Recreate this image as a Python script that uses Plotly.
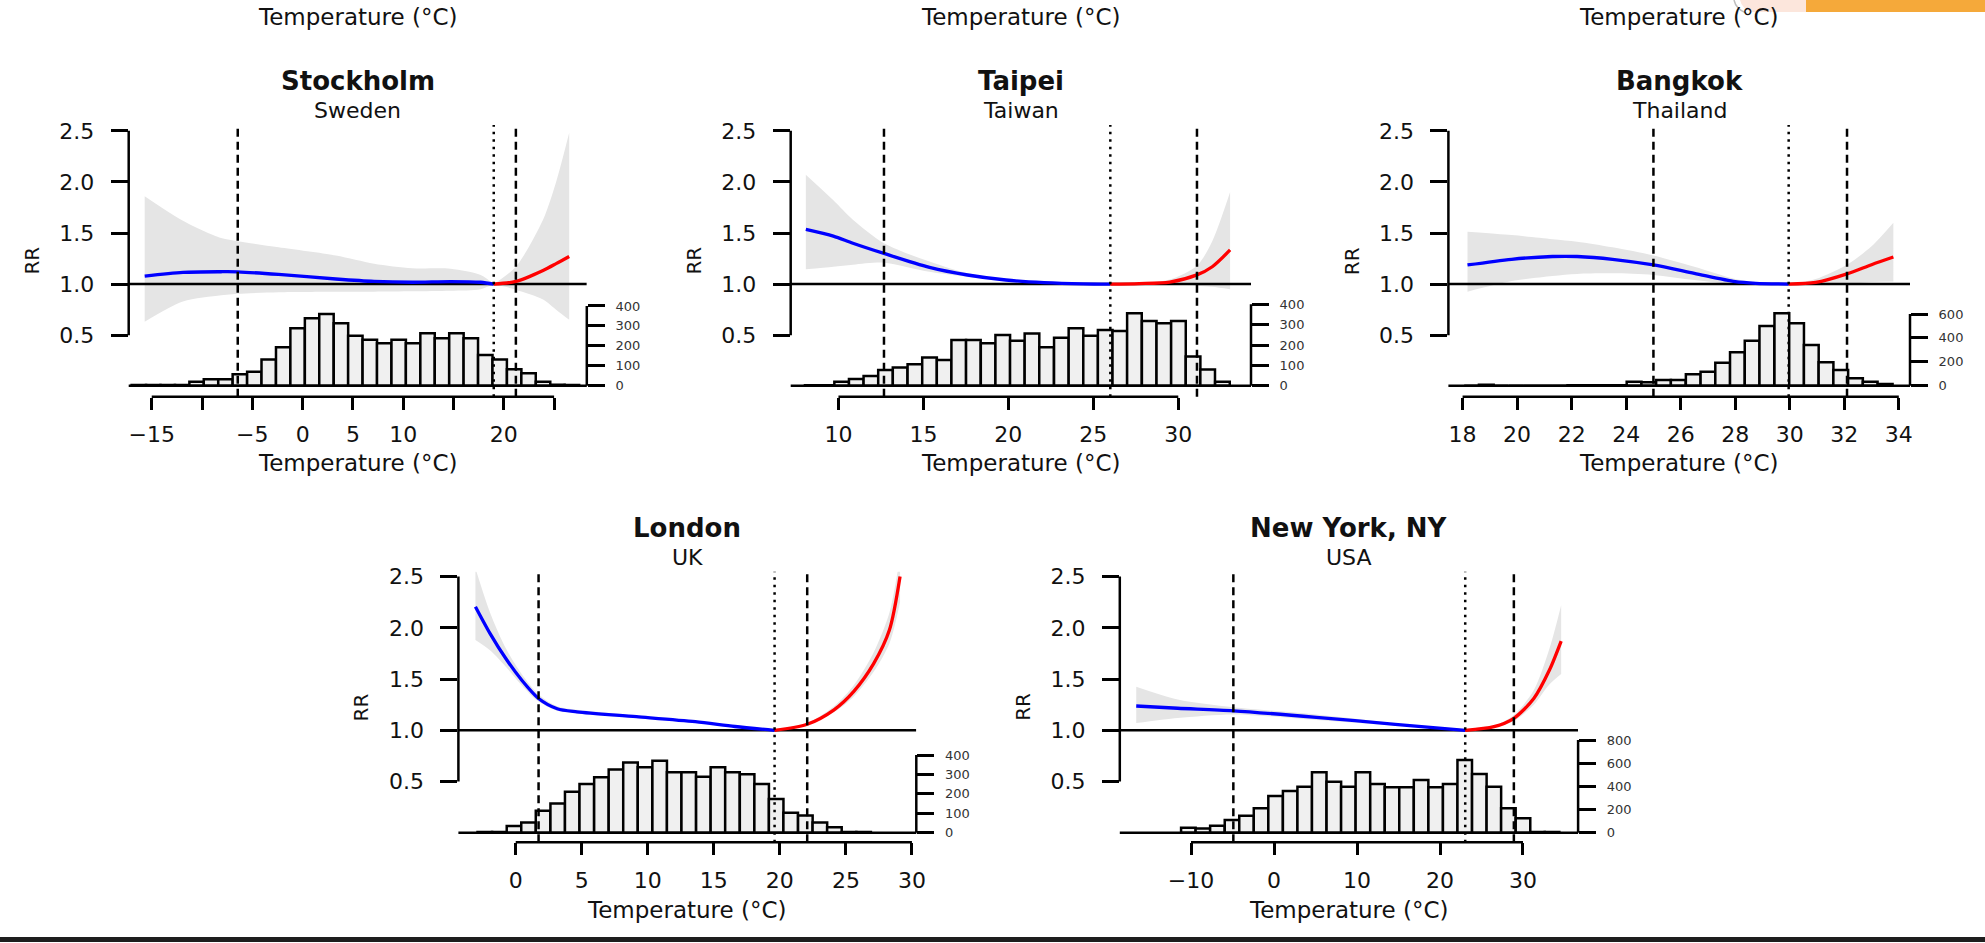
import plotly.graph_objects as go

W, H = 1985, 943

# ---------------- data ----------------
RR_TICKS = [0.5, 1.0, 1.5, 2.0, 2.5]

# Stockholm, Sweden
sto_cold_t = [-15.7, -11.9, -8.1, -6.45, -2.4, 3.3, 7.1, 10.9, 14.7, 17.7, 19.0]
sto_cold_rr = [1.079, 1.115, 1.121, 1.12, 1.095, 1.05, 1.026, 1.018, 1.025, 1.018, 1.0]
sto_cold_lo = [0.632, 0.83, 0.89, 0.905, 0.92, 0.925, 0.926, 0.93, 0.935, 0.95, 1.0]
sto_cold_hi = [1.86, 1.62, 1.45, 1.42, 1.36, 1.28, 1.20, 1.155, 1.15, 1.09, 1.0]
sto_heat_t = [19.0, 21.2, 23.9, 25.2, 26.5]
sto_heat_rr = [1.0, 1.026, 1.134, 1.2, 1.27]
sto_heat_lo = [1.0, 0.945, 0.85, 0.75, 0.65]
sto_heat_hi = [1.0, 1.17, 1.63, 2.0, 2.48]
sto_bins = [-16.28, -14.85, -13.41, -11.98, -10.54, -9.11, -7.67, -6.24, -4.80, -3.37,
            -1.93, -0.50, 0.94, 2.37, 3.81, 5.24, 6.68, 8.11, 9.55, 10.98, 12.42,
            13.85, 15.29, 16.72, 18.16, 19.59, 21.03, 22.46, 23.90, 25.33, 26.77]
sto_bin_width = 1.435
sto_counts = [4, 4, 4, 4, 20, 32, 32, 57, 70, 132, 193, 288, 338, 360, 313, 251, 231, 213,
              231, 213, 263, 238, 263, 238, 154, 132, 82, 62, 20, 5, 3]
sto_mmt = 19.0
sto_cuts = [-6.45, 21.2]
sto_xticks = [-15, -10, -5, 0, 5, 10, 15, 20, 25]
sto_xlabels = ["\u221215", "", "\u22125", "0", "5", "10", "", "20", ""]
sto_hticks = [0, 100, 200, 300, 400]

# Taipei, Taiwan
tpe_cold_t = [8.08, 9.7, 10.85, 12.68, 15.36, 17.6, 19.86, 22.1, 24.4, 26.0]
tpe_cold_rr = [1.536, 1.47, 1.40, 1.30, 1.164, 1.089, 1.040, 1.014, 1.002, 1.0]
tpe_cold_lo = [1.145, 1.17, 1.19, 1.21, 1.12, 1.07, 1.032, 1.011, 1.001, 1.0]
tpe_cold_hi = [2.07, 1.82, 1.63, 1.40, 1.22, 1.105, 1.047, 1.016, 1.003, 1.0]
tpe_heat_t = [26.0, 27.7, 29.5, 31.1, 32.0, 33.05]
tpe_heat_rr = [1.0, 1.005, 1.02, 1.09, 1.17, 1.334]
tpe_heat_lo = [1.0, 0.995, 0.99, 0.985, 0.975, 0.95]
tpe_heat_hi = [1.0, 1.01, 1.045, 1.18, 1.42, 1.9]
tpe_bins = [8.46, 9.32, 10.19, 11.05, 11.91, 12.77, 13.63, 14.50, 15.36, 16.22, 17.08,
            17.94, 18.81, 19.67, 20.53, 21.39, 22.25, 23.12, 23.98, 24.84, 25.70,
            26.56, 27.42, 28.29, 29.15, 30.01, 30.87, 31.73, 32.60]
tpe_bin_width = 0.862
tpe_counts = [2, 2, 20, 33, 48, 77, 90, 105, 139, 126, 225, 225, 208, 249, 221, 257, 189,
              236, 282, 246, 274, 269, 356, 318, 307, 318, 143, 80, 20]
tpe_mmt = 26.0
tpe_cuts = [12.68, 31.1]
tpe_xticks = [10, 15, 20, 25, 30]
tpe_xlabels = ["10", "15", "20", "25", "30"]
tpe_hticks = [0, 100, 200, 300, 400]

# Bangkok, Thailand
bkk_cold_t = [18.18, 19.8, 21.3, 22.2, 23.5, 25.0, 26.5, 28.0, 28.75, 29.96]
bkk_cold_rr = [1.187, 1.243, 1.27, 1.27, 1.243, 1.187, 1.105, 1.024, 1.008, 1.0]
bkk_cold_lo = [0.926, 1.03, 1.08, 1.10, 1.105, 1.09, 1.04, 1.0, 0.998, 1.0]
bkk_cold_hi = [1.513, 1.48, 1.44, 1.415, 1.36, 1.28, 1.17, 1.05, 1.02, 1.0]
bkk_heat_t = [29.96, 30.95, 32.1, 33.0, 33.8]
bkk_heat_rr = [1.0, 1.016, 1.10, 1.19, 1.265]
bkk_heat_lo = [1.0, 0.995, 1.0, 1.02, 1.025]
bkk_heat_hi = [1.0, 1.05, 1.19, 1.37, 1.6]
bkk_bins = [18.33, 18.87, 19.41, 19.96, 20.50, 21.04, 21.58, 22.12, 22.66, 23.21, 23.75,
            24.29, 24.83, 25.37, 25.91, 26.46, 27.00, 27.54, 28.08, 28.62, 29.16,
            29.71, 30.25, 30.79, 31.33, 31.87, 32.41, 32.95, 33.50]
bkk_bin_width = 0.5416
bkk_counts = [0, 8, 0, 0, 0, 0, 0, 4, 4, 4, 4, 33, 28, 48, 48, 95, 117, 192, 279, 377,
              500, 606, 522, 341, 196, 131, 62, 33, 14]
bkk_mmt = 29.96
bkk_cuts = [25.0, 32.1]
bkk_xticks = [18, 20, 22, 24, 26, 28, 30, 32, 34]
bkk_xlabels = ["18", "20", "22", "24", "26", "28", "30", "32", "34"]
bkk_hticks = [0, 200, 400, 600]

# London, UK
lon_cold_t = [-3.05, -1.95, -0.75, 0.45, 1.73, 3.14, 4.64, 9.14, 13.6, 16.6, 19.6]
lon_cold_rr = [2.206, 1.946, 1.70, 1.49, 1.31, 1.21, 1.18, 1.133, 1.084, 1.037, 1.0]
lon_cold_lo = [1.88, 1.78, 1.62, 1.44, 1.28, 1.19, 1.165, 1.12, 1.076, 1.033, 1.0]
lon_cold_hi = [2.58, 2.15, 1.80, 1.55, 1.35, 1.235, 1.20, 1.145, 1.092, 1.042, 1.0]
lon_heat_t = [19.6, 22.07, 24.1, 25.6, 27.1, 28.3, 29.1]
lon_heat_rr = [1.0, 1.059, 1.2, 1.38, 1.65, 1.98, 2.5]
lon_heat_lo = [1.0, 1.05, 1.175, 1.33, 1.57, 1.85, 2.25]
lon_heat_hi = [1.0, 1.07, 1.235, 1.44, 1.76, 2.15, 2.7]
lon_bins = [-2.34, -1.24, -0.13, 0.97, 2.07, 3.18, 4.28, 5.38, 6.49, 7.59, 8.69, 9.79,
            10.90, 12.00, 13.10, 14.21, 15.31, 16.41, 17.52, 18.62, 19.72, 20.82,
            21.93, 23.03, 24.13, 25.24, 26.34]
lon_bin_width = 1.103
lon_counts = [3, 3, 34, 53, 113, 151, 211, 251, 285, 326, 361, 337, 371, 311, 311, 288,
              337, 311, 301, 251, 174, 103, 88, 52, 28, 3, 3]
lon_mmt = 19.6
lon_cuts = [1.73, 22.07]
lon_xticks = [0, 5, 10, 15, 20, 25, 30]
lon_xlabels = ["0", "5", "10", "15", "20", "25", "30"]
lon_hticks = [0, 100, 200, 300, 400]

# New York, NY, USA
nyc_cold_t = [-16.6, -11.6, -4.9, 5.1, 14.6, 23.04]
nyc_cold_rr = [1.237, 1.215, 1.19, 1.127, 1.058, 1.0]
nyc_cold_lo = [1.07, 1.12, 1.155, 1.10, 1.045, 1.0]
nyc_cold_hi = [1.425, 1.30, 1.225, 1.155, 1.07, 1.0]
nyc_heat_t = [23.04, 26.5, 28.9, 31.3, 33.2, 34.6]
nyc_heat_rr = [1.0, 1.035, 1.117, 1.31, 1.59, 1.87]
nyc_heat_lo = [1.0, 1.025, 1.09, 1.25, 1.45, 1.55]
nyc_heat_hi = [1.0, 1.045, 1.15, 1.39, 1.80, 2.22]
nyc_bins = [-10.32, -8.57, -6.82, -5.06, -3.31, -1.56, 0.19, 1.95, 3.70, 5.45, 7.21,
            8.96, 10.71, 12.47, 14.22, 15.97, 17.72, 19.48, 21.23, 22.98, 24.74,
            26.49, 28.24, 30.00, 31.75, 33.50]
nyc_bin_width = 1.753
nyc_counts = [43, 37, 60, 110, 147, 211, 317, 360, 397, 521, 440, 397, 521, 421, 392, 392,
              455, 392, 421, 628, 507, 397, 211, 124, 5, 5]
nyc_mmt = 23.04
nyc_cuts = [-4.9, 28.9]
nyc_xticks = [-10, 0, 10, 20, 30]
nyc_xlabels = ["\u221210", "0", "10", "20", "30"]
nyc_hticks = [0, 200, 400, 600, 800]

CITIES = ["Stockholm", "Taipei", "Bangkok", "London", "New York, NY"]
COUNTRIES = ["Sweden", "Taiwan", "Thailand", "UK", "USA"]


def city(prefix):
    g = globals()
    keys = ["cold_t", "cold_rr", "cold_lo", "cold_hi", "heat_t", "heat_rr", "heat_lo",
            "heat_hi", "bins", "bin_width", "counts", "mmt", "cuts", "xticks", "xlabels",
            "hticks"]
    return {k: g[prefix + "_" + k] for k in keys}


DATA = [city(p) for p in ["sto", "tpe", "bkk", "lon", "nyc"]]

# ---------------- geometry (pixels) ----------------
ROWS = [
    dict(top=125.0, bottom=396.7, rr1=284.1, px_rr=102.2, base=385.7,
         title_y=81.0, sub_y=111.0, xtitle_y=463.3),
    dict(top=571.7, bottom=842.3, rr1=730.3, px_rr=102.5, base=832.7,
         title_y=528.0, sub_y=557.0, xtitle_y=910.0),
]
PANELS = [
    dict(row=0, left=128.7, right=586.8, t0=-17.29, t1=28.25, px_count=0.1993),
    dict(row=0, left=790.7, right=1251.0, t0=7.19, t1=34.28, px_count=0.2035),
    dict(row=0, left=1448.4, right=1910.0, t0=17.48, t1=34.41, px_count=0.1195),
    dict(row=1, left=458.4, right=916.3, t0=-4.34, t1=30.33, px_count=0.1942),
    dict(row=1, left=1119.8, right=1578.1, t0=-18.58, t1=36.64, px_count=0.1158),
]

FONT = "DejaVu Sans"
TXT = "#111111"
AXW = 2.5


def X(px):
    return px / W


def Y(py):
    return 1 - py / H


fig = go.Figure()
layout = dict(width=W, height=H, margin=dict(l=0, r=0, t=0, b=0, pad=0),
              paper_bgcolor="white", plot_bgcolor="rgba(0,0,0,0)", showlegend=False,
              barmode="overlay", font=dict(family=FONT, color=TXT))
shapes = []
annotations = []


def label(text, px, py, size, angle=0):
    return dict(text=text, x=X(px), y=Y(py), xref="paper", yref="paper", showarrow=False,
                xanchor="center", yanchor="middle", textangle=angle,
                font=dict(family=FONT, size=size, color=TXT))


for i, (p, d) in enumerate(zip(PANELS, DATA)):
    n = i + 1
    xa = "x" if n == 1 else f"x{n}"
    ya = "y" if n == 1 else f"y{n}"
    ha = f"y{n + 5}"
    r = ROWS[p["row"]]
    rr_lo = 1 - (r["bottom"] - r["rr1"]) / r["px_rr"]
    rr_hi = 1 + (r["rr1"] - r["top"]) / r["px_rr"]
    h_lo = (r["base"] - r["bottom"]) / p["px_count"]
    h_hi = (r["base"] - r["top"]) / p["px_count"]

    layout["xaxis" if n == 1 else f"xaxis{n}"] = dict(
        domain=[X(p["left"]), X(p["right"])], range=[p["t0"], p["t1"]], anchor=ya,
        showgrid=False, zeroline=False, showline=False, ticks="outside", ticklen=12,
        tickwidth=AXW, tickcolor="black", tickmode="array", tickvals=d["xticks"],
        ticktext=d["xlabels"], tickfont=dict(family=FONT, size=22, color=TXT),
        ticklabelstandoff=6, automargin=False, fixedrange=True)
    layout["yaxis" if n == 1 else f"yaxis{n}"] = dict(
        domain=[Y(r["bottom"]), Y(r["top"])], range=[rr_lo, rr_hi], anchor=xa,
        showgrid=False, zeroline=False, showline=False, ticks="outside", ticklen=17,
        tickwidth=AXW, tickcolor="black", tickmode="array", tickvals=RR_TICKS,
        ticktext=[f"{v:.1f}" for v in RR_TICKS], tickfont=dict(family=FONT, size=22, color=TXT),
        ticklabelstandoff=12, automargin=False, fixedrange=True)
    layout[f"yaxis{n + 5}"] = dict(
        overlaying=ya, anchor=xa, side="right", range=[h_lo, h_hi],
        showgrid=False, zeroline=False, showline=False, ticks="outside", ticklen=17,
        tickwidth=AXW, tickcolor="black", tickmode="array", tickvals=d["hticks"],
        ticktext=[str(v) for v in d["hticks"]], tickfont=dict(family=FONT, size=13, color="#333"),
        ticklabelstandoff=8, automargin=False, fixedrange=True)

    # confidence bands
    for seg in ("cold", "heat"):
        fig.add_trace(go.Scatter(x=d[seg + "_t"], y=d[seg + "_lo"], mode="lines",
                                 line=dict(width=0, shape="spline", smoothing=0.8),
                                 xaxis=xa, yaxis=ya, hoverinfo="skip"))
        fig.add_trace(go.Scatter(x=d[seg + "_t"], y=d[seg + "_hi"], mode="lines",
                                 line=dict(width=0, shape="spline", smoothing=0.8),
                                 fill="tonexty", fillcolor="rgb(229,229,229)",
                                 xaxis=xa, yaxis=ya, hoverinfo="skip"))
    # reference line RR = 1 across the plot region
    fig.add_trace(go.Scatter(x=[p["t0"], p["t1"]], y=[1, 1], mode="lines",
                             line=dict(color="black", width=AXW), xaxis=xa, yaxis=ya,
                             hoverinfo="skip"))
    fig.add_trace(go.Scatter(x=d["cold_t"], y=d["cold_rr"], mode="lines",
                             line=dict(color="#0000FF", width=3.3, shape="spline", smoothing=0.8),
                             xaxis=xa, yaxis=ya))
    fig.add_trace(go.Scatter(x=d["heat_t"], y=d["heat_rr"], mode="lines",
                             line=dict(color="#FF0000", width=3.3, shape="spline", smoothing=0.8),
                             xaxis=xa, yaxis=ya))
    # histogram of temperatures
    fig.add_trace(go.Bar(x=d["bins"], y=d["counts"], width=d["bin_width"],
                         marker=dict(color="#F0F0F0", line=dict(color="black", width=AXW)),
                         xaxis=xa, yaxis=ha))

    line_k = dict(color="black", width=AXW)
    # R-style axis lines spanning the tick range only
    shapes.append(dict(type="line", xref=f"{xa} domain", x0=0, x1=0, yref=ya,
                       y0=min(RR_TICKS), y1=max(RR_TICKS), line=line_k, layer="above"))
    shapes.append(dict(type="line", xref=f"{xa} domain", x0=1, x1=1, yref=ha,
                       y0=0, y1=max(d["hticks"]), line=line_k, layer="above"))
    shapes.append(dict(type="line", xref=f"{xa} domain", x0=0, x1=1, yref=ha,
                       y0=0, y1=0, line=line_k, layer="above"))
    shapes.append(dict(type="line", xref=xa, x0=min(d["xticks"]), x1=max(d["xticks"]),
                       yref=f"{ya} domain", y0=0, y1=0, line=line_k, layer="above"))
    for c in d["cuts"]:
        shapes.append(dict(type="line", xref=xa, x0=c, x1=c, yref=f"{ya} domain", y0=0, y1=1,
                           line=dict(color="black", width=AXW, dash="8px,5px"), layer="above"))
    shapes.append(dict(type="line", xref=xa, x0=d["mmt"], x1=d["mmt"], yref=f"{ya} domain",
                       y0=0, y1=1, line=dict(color="black", width=AXW, dash="2.5px,5px"),
                       layer="above"))

    cx = (p["left"] + p["right"]) / 2
    annotations.append(label(f"<b>{CITIES[i]}</b>", cx, r["title_y"], 26))
    annotations.append(label(COUNTRIES[i], cx, r["sub_y"], 22))
    annotations.append(label("Temperature (\u00b0C)", cx, r["xtitle_y"], 23))
    annotations.append(label("RR", p["left"] - 97, (r["top"] + r["bottom"]) / 2, 20, -90))
    # axis titles of the panel row above (cut off at the page top)
    if p["row"] == 0:
        annotations.append(label("Temperature (\u00b0C)", cx, 17, 23))

# page decorations: bottom rule and top-right corner ornament
shapes.append(dict(type="rect", xref="paper", yref="paper", x0=0, x1=1, y0=Y(942), y1=Y(937),
                   fillcolor="#1e1e1e", line=dict(width=0), layer="above"))
shapes.append(dict(type="path", xref="paper", yref="paper",
                   path=f"M {X(1740)},{Y(0)} Q {X(1742)},{Y(9)} {X(1752)},{Y(12)} "
                        f"L {X(1806)},{Y(12)} L {X(1806)},{Y(0)} Z",
                   fillcolor="#FCE6DC", line=dict(width=0), layer="above"))
shapes.append(dict(type="rect", xref="paper", yref="paper", x0=X(1806), x1=1, y0=Y(12), y1=1,
                   fillcolor="#F5A93A", line=dict(width=0), layer="above"))
shapes.append(dict(type="path", xref="paper", yref="paper",
                   path=f"M {X(1734)},{Y(0)} Q {X(1736)},{Y(9)} {X(1746)},{Y(13)}",
                   line=dict(color="#BDBDBD", width=1.5), layer="above"))

layout["shapes"] = shapes
layout["annotations"] = annotations
fig.update_layout(**layout)

fig.write_html("out.html", config={"displayModeBar": False},
               post_script="document.body.style.margin='0px';document.body.style.overflow='hidden';")
